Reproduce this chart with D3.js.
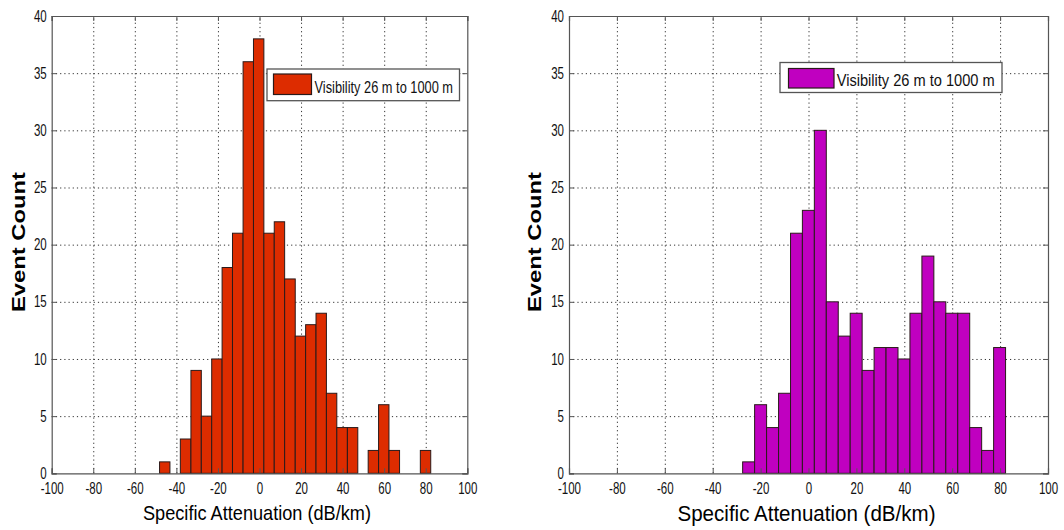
<!DOCTYPE html>
<html>
<head>
<meta charset="utf-8">
<script src="https://cdn.jsdelivr.net/npm/d3@7"></script>
<style>
  html, body { margin: 0; padding: 0; background: #fff; }
  svg { display: block; font-family: "Liberation Sans", Arial, sans-serif; }
</style>
</head>
<body>
<svg id="chart" width="1064" height="530"></svg>
<script>
// ---------------- data ----------------
const xTicks = [-100, -80, -60, -40, -20, 0, 20, 40, 60, 80, 100];
const yTicks = [0, 5, 10, 15, 20, 25, 30, 35, 40];
const xLabel = "Specific Attenuation (dB/km)";
const yLabel = "Event Count";
const legendLabel = "Visibility 26 m to 1000 m";

// left histogram: bin edges and counts
const leftEdges = [-48.1, -43.1, -38.1, -33.0, -28.0, -23.0, -18.0, -13.0, -7.9, -2.9,
                   2.1, 7.1, 12.1, 17.2, 22.2, 27.2, 32.2, 37.2, 42.3, 47.3,
                   52.3, 57.3, 62.3, 67.4, 72.4, 77.4, 82.4];
const leftCounts = [1, 0, 3, 9, 5, 10, 18, 21, 36, 38,
                    21, 22, 17, 12, 13, 14, 7, 4, 4, 0,
                    2, 6, 2, 0, 0, 2];

// right histogram: bin edges and counts
const rightEdges = [-27.5, -22.5, -17.5, -12.5, -7.5, -2.55, 2.44, 7.43, 12.42, 17.41,
                    22.4, 27.39, 32.38, 37.37, 42.36, 47.35, 52.34, 57.33, 62.32, 67.31,
                    72.3, 77.29, 82.28];
const rightCounts = [1, 6, 4, 7, 21, 23, 30, 15, 12, 14,
                     9, 11, 11, 10, 14, 19, 15, 14, 14, 4,
                     2, 11];

// ---------------- layout ----------------
const panels = [
  { edges: leftEdges, counts: leftCounts, fill: "#dd2c00",
    plot: { x0: 51.7, x1: 467.3, y0: 16, y1: 473.3 },
    legend: { bx0: 267, bx1: 459.5, by0: 69, by1: 100.7, sx0: 273.5, sx1: 311.5, sy0: 74, sy1: 94.5, tx: 314.5, tlen: 138.5, ty: 92.5, fs: 16 },
    xlab: { cx: 257, y: 520, len: 228, fs: 21 },
    ylab: { x: 25, cy: 242, len: 140, fs: 19 } },
  { edges: rightEdges, counts: rightCounts, fill: "#c000c0",
    plot: { x0: 569, x1: 1048, y0: 16, y1: 473.3 },
    legend: { bx0: 780, bx1: 1002, by0: 62.5, by1: 92.5, sx0: 788.5, sx1: 834, sy0: 68.5, sy1: 88, tx: 836.7, tlen: 158, ty: 86, fs: 16 },
    xlab: { cx: 806.5, y: 521, len: 258, fs: 22 },
    ylab: { x: 541, cy: 242, len: 140, fs: 19 } }
];

const svg = d3.select("#chart");
const SX = 0.72; // horizontal squeeze of tick-label glyphs
const fmt = d => String(d); // plain hyphen-minus, as in the reference

panels.forEach(p => {
  const w = p.plot.x1 - p.plot.x0, h = p.plot.y1 - p.plot.y0;
  const g = svg.append("g").attr("transform", `translate(${p.plot.x0},${p.plot.y0})`);
  const x = d3.scaleLinear().domain([-100, 100]).range([0, w]);
  const y = d3.scaleLinear().domain([0, 40]).range([h, 0]);

  // grid (dotted)
  const gx = g.append("g").attr("transform", `translate(0,${h})`)
    .call(d3.axisBottom(x).tickValues(xTicks.slice(1, -1)).tickSize(-h).tickFormat(""));
  const gy = g.append("g")
    .call(d3.axisLeft(y).tickValues(yTicks.slice(1, -1)).tickSize(-w).tickFormat(""));
  [gx, gy].forEach(a => {
    a.select(".domain").remove();
    a.selectAll("line").attr("stroke", "#333").attr("stroke-width", 1)
      .attr("stroke-dasharray", "1.2,3");
  });

  // bars
  g.append("g").selectAll("rect")
    .data(p.counts.map((c, i) => ({ c, a: p.edges[i], b: p.edges[i + 1] })).filter(d => d.c > 0))
    .join("rect")
    .attr("x", d => x(d.a))
    .attr("width", d => x(d.b) - x(d.a))
    .attr("y", d => y(d.c))
    .attr("height", d => y(0) - y(d.c))
    .attr("fill", p.fill)
    .attr("stroke", "#2a1a1a")
    .attr("stroke-width", 1);

  // axes (inward ticks, full box)
  const ax = g.append("g").attr("transform", `translate(0,${h})`)
    .call(d3.axisBottom(x).tickValues(xTicks).tickSize(-5).tickPadding(9).tickFormat(fmt));
  const ay = g.append("g")
    .call(d3.axisLeft(y).tickValues(yTicks).tickSize(-5).tickPadding(5).tickFormat(fmt));
  const at = g.append("g")
    .call(d3.axisTop(x).tickValues(xTicks).tickSize(-5).tickFormat(""));
  const ar = g.append("g").attr("transform", `translate(${w},0)`)
    .call(d3.axisRight(y).tickValues(yTicks).tickSize(-5).tickFormat(""));
  [ax, ay, at, ar].forEach(a => {
    a.select(".domain").attr("stroke", "#555").attr("stroke-width", 1.2);
    a.selectAll("line").attr("stroke", "#555");
  });
  ax.selectAll("text").attr("font-size", 16).attr("fill", "#111")
    .attr("font-family", "Liberation Sans, Arial, sans-serif")
    .attr("transform", `scale(${SX},1)`);
  ay.selectAll("text").attr("font-size", 16).attr("fill", "#111")
    .attr("font-family", "Liberation Sans, Arial, sans-serif")
    .attr("x", -5 / SX)
    .attr("transform", `scale(${SX},1)`);

  // legend
  const L = p.legend;
  svg.append("rect").attr("x", L.bx0).attr("y", L.by0)
    .attr("width", L.bx1 - L.bx0).attr("height", L.by1 - L.by0)
    .attr("fill", "#fff").attr("stroke", "#555").attr("stroke-width", 1.3);
  svg.append("rect").attr("x", L.sx0).attr("y", L.sy0)
    .attr("width", L.sx1 - L.sx0).attr("height", L.sy1 - L.sy0)
    .attr("fill", p.fill).attr("stroke", "#2a1a1a").attr("stroke-width", 1.2);
  svg.append("text").attr("x", L.tx).attr("y", L.ty)
    .attr("font-size", L.fs).attr("fill", "#111")
    .attr("textLength", L.tlen).attr("lengthAdjust", "spacingAndGlyphs")
    .text(legendLabel);

  // axis titles
  svg.append("text").attr("x", p.xlab.cx).attr("y", p.xlab.y)
    .attr("text-anchor", "middle").attr("font-size", p.xlab.fs).attr("fill", "#000")
    .attr("textLength", p.xlab.len).attr("lengthAdjust", "spacingAndGlyphs")
    .text(xLabel);
  svg.append("text")
    .attr("transform", `translate(${p.ylab.x},${p.ylab.cy}) rotate(-90)`)
    .attr("text-anchor", "middle").attr("font-size", p.ylab.fs).attr("font-weight", "bold")
    .attr("fill", "#000")
    .attr("textLength", p.ylab.len).attr("lengthAdjust", "spacingAndGlyphs")
    .text(yLabel);
});
</script>
</body>
</html>
